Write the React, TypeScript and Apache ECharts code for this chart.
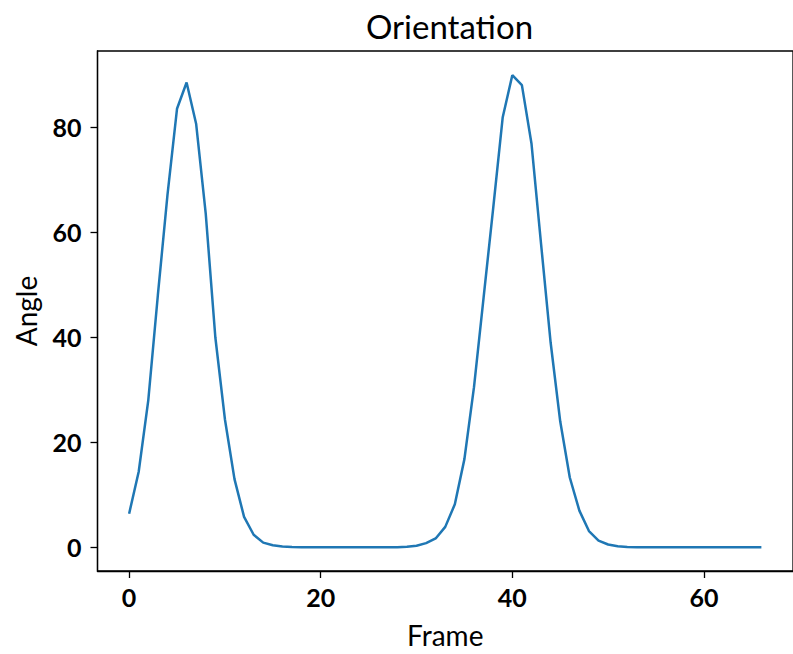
import React, { useEffect, useRef } from "react";
import * as echarts from "echarts";

const TITLE = "Orientation";
const X_NAME = "Frame";
const Y_NAME = "Angle";
const X_TICKS = [0, 20, 40, 60];
const Y_TICKS = [0, 20, 40, 60, 80];

// Angle per frame (frame index = position in the array, 0..66)
const ANGLES = [
  6.4, 14.4, 28, 48, 67, 83.5, 88.5, 80.6, 63.5, 40,
  24.4, 13, 5.8, 2.4, 0.9, 0.4, 0.15, 0.06, 0.02, 0,
  0, 0, 0, 0, 0, 0, 0, 0, 0.03, 0.1,
  0.3, 0.8, 1.7, 3.9, 8.2, 16.8, 30.5, 47.5, 64.5, 81.9,
  89.9, 88, 76.9, 57.8, 39, 24, 13.3, 7, 3.1, 1.3,
  0.55, 0.22, 0.09, 0.03, 0, 0, 0, 0, 0, 0,
  0, 0, 0, 0, 0, 0, 0,
];

const FONT = "Lato, 'Open Sans', sans-serif";

export default function App() {
  const ref = useRef<HTMLDivElement>(null);
  useEffect(() => {
    const chart = echarts.init(ref.current!, null, { renderer: "svg" });
    const data = ANGLES.map((v, i) => [i, v]);
    chart.setOption({
      animation: false,
      backgroundColor: "#ffffff",
      graphic: [
        {
          type: "text",
          x: 449.5,
          y: 26,
          style: {
            text: TITLE,
            font: `33px ${FONT}`,
            fill: "#000",
            textAlign: "center",
            textVerticalAlign: "middle",
            align: "center",
            verticalAlign: "middle",
          },
        },
      ],
      grid: {
        left: 97.5,
        top: 51,
        width: 703,
        height: 522,
        show: true,
        borderColor: "#000",
        borderWidth: 1.3,
        containLabel: false,
      },
      xAxis: {
        type: "value",
        min: -3.3,
        max: 69.3,
        name: X_NAME,
        nameLocation: "middle",
        nameGap: 50,
        nameTextStyle: { fontFamily: FONT, fontSize: 28, color: "#000" },
        splitLine: { show: false },
        axisLine: { show: true, onZero: false, lineStyle: { color: "#000", width: 1.3 } },
        axisTick: { show: true, length: 7, customValues: X_TICKS, lineStyle: { color: "#000", width: 1.3 } },
        axisLabel: {
          customValues: X_TICKS,
          fontFamily: FONT,
          fontSize: 25,
          fontWeight: "bold",
          color: "#000",
          margin: 13,
        },
      },
      yAxis: {
        type: "value",
        min: -4.5,
        max: 94.5,
        name: Y_NAME,
        nameLocation: "middle",
        nameGap: 58,
        nameTextStyle: { fontFamily: FONT, fontSize: 28, color: "#000" },
        splitLine: { show: false },
        axisLine: { show: true, onZero: false, lineStyle: { color: "#000", width: 1.3 } },
        axisTick: { show: true, length: 7, customValues: Y_TICKS, lineStyle: { color: "#000", width: 1.3 } },
        axisLabel: {
          customValues: Y_TICKS,
          fontFamily: FONT,
          fontSize: 25,
          fontWeight: "bold",
          color: "#000",
          margin: 16,
        },
      },
      series: [
        {
          type: "line",
          data,
          showSymbol: false,
          symbol: "none",
          lineStyle: { color: "#1f77b4", width: 2.5 },
          itemStyle: { color: "#1f77b4" },
        },
      ],
    });
    return () => chart.dispose();
  }, []);
  return (
    <div
      ref={ref}
      style={{ position: "fixed", left: 0, top: 0, width: 793, height: 654 }}
    />
  );
}
